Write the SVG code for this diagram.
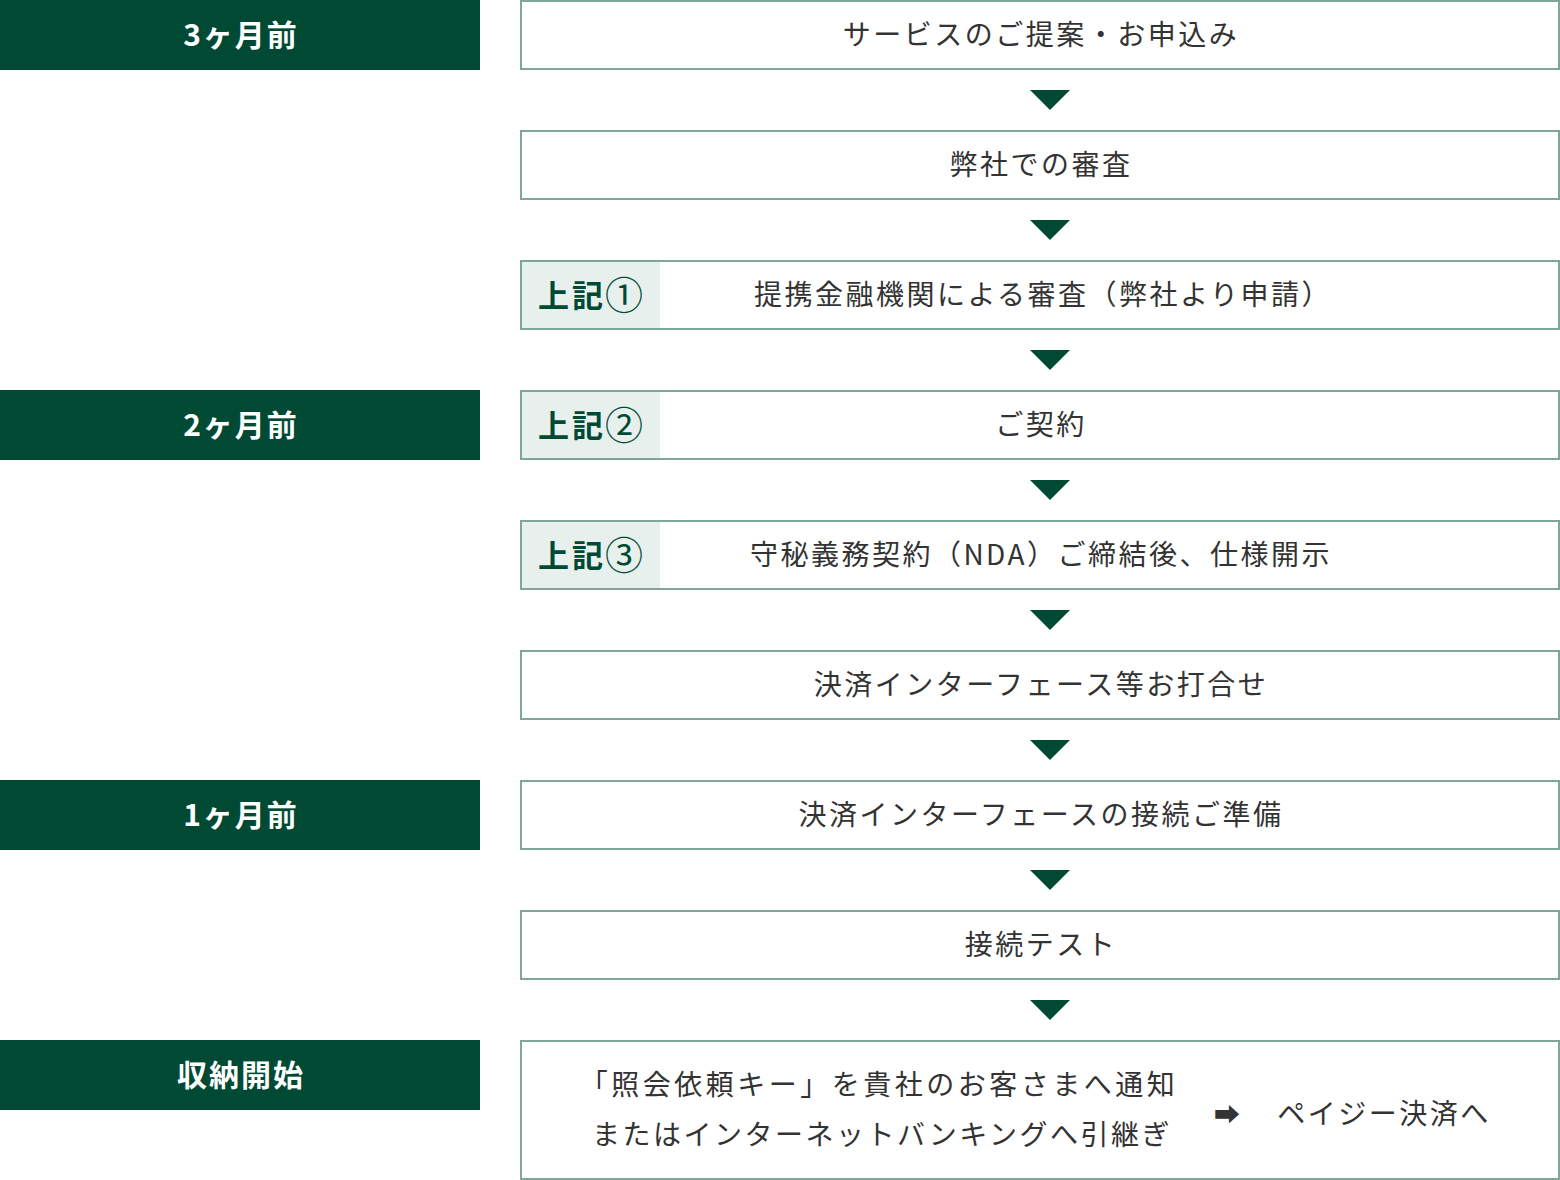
<svg xmlns="http://www.w3.org/2000/svg" width="1560" height="1180" viewBox="0 0 1560 1180">
<style>
.lab rect{fill:#004a34}
.lab text{fill:#fff;font-family:"Noto Sans CJK JP","Noto Sans",sans-serif;font-weight:700;font-size:30px;text-anchor:middle;letter-spacing:2px}
.box rect.b{fill:#fff;stroke:#80a698;stroke-width:2}
.box rect.t{fill:#e8f0ed}
.box text{fill:#333;font-family:"Noto Sans CJK JP","Noto Sans",sans-serif;font-size:28px;letter-spacing:2.5px}
.box text.c{text-anchor:middle}
.box text.tag{fill:#004a34;font-weight:700;font-size:31px;letter-spacing:0}
.box text.tag tspan.n{font-weight:400;font-size:38px}
.arr polygon{fill:#004a34}
</style>
<g id="label-3m" class="lab"><rect x="0" y="0" width="480" height="70"/><text x="241" y="46">3ヶ月前</text></g>
<g id="label-2m" class="lab"><rect x="0" y="390" width="480" height="70"/><text x="241" y="436">2ヶ月前</text></g>
<g id="label-1m" class="lab"><rect x="0" y="780" width="480" height="70"/><text x="241" y="826">1ヶ月前</text></g>
<g id="label-start" class="lab"><rect x="0" y="1040" width="480" height="70"/><text x="241" y="1086">収納開始</text></g>

<g id="step1" class="box"><rect class="b" x="521" y="1" width="1038" height="68"/><text class="c" x="1041" y="45">サービスのご提案・お申込み</text></g>
<g id="step2" class="box"><rect class="b" x="521" y="131" width="1038" height="68"/><text class="c" x="1041" y="175">弊社での審査</text></g>
<g id="step3" class="box"><rect class="b" x="521" y="261" width="1038" height="68"/><rect class="t" x="522" y="262" width="138" height="66"/><text class="tag" y="307"><tspan x="538">上</tspan><tspan x="572">記</tspan><tspan class="n" x="605" y="309">①</tspan></text><text class="c" x="1043" y="305">提携金融機関による審査（弊社より申請）</text></g>
<g id="step4" class="box"><rect class="b" x="521" y="391" width="1038" height="68"/><rect class="t" x="522" y="392" width="138" height="66"/><text class="tag" y="437"><tspan x="538">上</tspan><tspan x="572">記</tspan><tspan class="n" x="605" y="439">②</tspan></text><text class="c" x="1041" y="435">ご契約</text></g>
<g id="step5" class="box"><rect class="b" x="521" y="521" width="1038" height="68"/><rect class="t" x="522" y="522" width="138" height="66"/><text class="tag" y="567"><tspan x="538">上</tspan><tspan x="572">記</tspan><tspan class="n" x="605" y="569">③</tspan></text><text class="c" x="1041" y="565">守秘義務契約（NDA）ご締結後、仕様開示</text></g>
<g id="step6" class="box"><rect class="b" x="521" y="651" width="1038" height="68"/><text class="c" x="1041" y="695">決済インターフェース等お打合せ</text></g>
<g id="step7" class="box"><rect class="b" x="521" y="781" width="1038" height="68"/><text class="c" x="1041" y="825">決済インターフェースの接続ご準備</text></g>
<g id="step8" class="box"><rect class="b" x="521" y="911" width="1038" height="68"/><text class="c" x="1041" y="955">接続テスト</text></g>
<g id="step9" class="box"><rect class="b" x="521" y="1041" width="1038" height="138"/>
<text class="c" x="879" y="1095" style="letter-spacing:3.5px">「照会依頼キー」を貴社のお客さまへ通知</text>
<text class="c" x="882" y="1145">またはインターネットバンキングへ引継ぎ</text>
<text class="c" x="1227" y="1124" style="letter-spacing:0;font-size:26px">➡</text>
<text class="c" x="1384" y="1124">ペイジー決済へ</text>
</g>

<g id="connectors" class="arr">
<polygon points="1030,90 1070,90 1050,110"/>
<polygon points="1030,220 1070,220 1050,240"/>
<polygon points="1030,350 1070,350 1050,370"/>
<polygon points="1030,480 1070,480 1050,500"/>
<polygon points="1030,610 1070,610 1050,630"/>
<polygon points="1030,740 1070,740 1050,760"/>
<polygon points="1030,870 1070,870 1050,890"/>
<polygon points="1030,1000 1070,1000 1050,1020"/>
</g>
</svg>
